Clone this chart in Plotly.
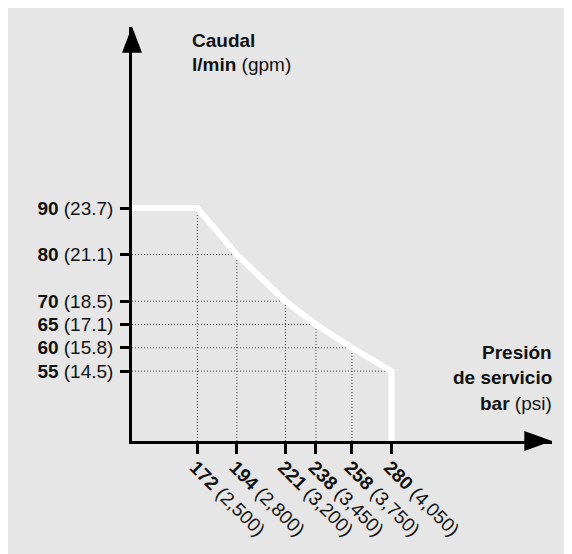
import plotly.graph_objects as go

# ---- data ----
pressure_bar = [172, 194, 221, 238, 258, 280]
pressure_psi = ["2,500", "2,800", "3,200", "3,450", "3,750", "4,050"]
flow_lpm = [90, 80, 70, 65, 60, 55]
flow_gpm = ["23.7", "21.1", "18.5", "17.1", "15.8", "14.5"]

X_MIN, X_MAX = 135.65, 369.3
Y_MIN, Y_MAX = 40.0, 128.84

# page offset of the figure (browser body margin)
OX, OY = 8, 8
W, H = 572 - OX, 554 - OY
ML, MR, MT, MB = 132 - OX, 20, 27 - OY, 113
PW, PH = W - ML - MR, H - MT - MB

FONT = "Liberation Sans, Arial, Helvetica, sans-serif"
FS = 19
TXT = "#111111"
BG = "#e6e6e6"


def px(xp):
    """page x pixel -> paper x"""
    return (xp - OX - ML) / PW


def py(yp):
    """page y pixel -> paper y"""
    return (OY + H - MB - yp) / PH


fig = go.Figure()

# dotted guide lines
gx, gy = [], []
for i in range(1, len(pressure_bar)):
    gx += [X_MIN, pressure_bar[i], None]
    gy += [flow_lpm[i], flow_lpm[i], None]
for i in range(len(pressure_bar) - 1):
    gx += [pressure_bar[i], pressure_bar[i], None]
    gy += [Y_MIN, flow_lpm[i], None]
fig.add_trace(go.Scatter(x=gx, y=gy, mode="lines",
                         line=dict(color="#444444", width=1, dash="1px,2px"),
                         hoverinfo="skip", showlegend=False))

# white performance curve
cx = [X_MIN] + pressure_bar + [pressure_bar[-1]]
cy = [flow_lpm[0]] + flow_lpm + [Y_MIN]
fig.add_trace(go.Scatter(x=cx, y=cy, mode="lines",
                         line=dict(color="white", width=6),
                         cliponaxis=False, hoverinfo="skip", showlegend=False))

xt = [f"<b>{b}</b> ({p})" for b, p in zip(pressure_bar, pressure_psi)]
yt = [f"<b>{q}</b> ({g})" for q, g in zip(flow_lpm, flow_gpm)]

fig.update_xaxes(range=[X_MIN, X_MAX], tickvals=pressure_bar, ticktext=xt,
                 tickangle=45, ticks="outside", ticklen=10, tickwidth=2.5,
                 tickcolor="#000", showline=True, linecolor="#000", linewidth=2.5,
                 showgrid=False, zeroline=False, ticklabelstandoff=-5,
                 ticklabelshift=-2,
                 tickfont=dict(family=FONT, size=FS, color=TXT))
fig.update_yaxes(range=[Y_MIN, Y_MAX], tickvals=flow_lpm, ticktext=yt,
                 ticks="outside", ticklen=9, tickwidth=2.5,
                 tickcolor="#000", showline=True, linecolor="#000", linewidth=2.5,
                 showgrid=False, zeroline=False, ticklabelstandoff=3,
                 tickfont=dict(family=FONT, size=FS, color=TXT))

shapes = [
    # axis arrowheads
    dict(type="path", xref="paper", yref="paper", fillcolor="#000", line_width=0,
         path=f"M {px(132)} {py(26.5)} L {px(122)} {py(52.7)} L {px(142)} {py(52.7)} Z"),
    dict(type="path", xref="paper", yref="paper", fillcolor="#000", line_width=0,
         path=f"M {px(552)} {py(441)} L {px(524.3)} {py(431)} L {px(524.3)} {py(451)} Z"),
]

ann = [
    dict(text="<b>Caudal</b>", x=px(190), y=py(40), xanchor="left"),
    dict(text="<b>l/min</b> (gpm)", x=px(190), y=py(65), xanchor="left"),
    dict(text="<b>Presión</b>", x=px(554), y=py(352), xanchor="right"),
    dict(text="<b>de servicio</b>", x=px(554), y=py(377.5), xanchor="right"),
    dict(text="<b>bar</b> (psi)", x=px(554), y=py(403.5), xanchor="right"),
]
for a in ann:
    a.update(xref="paper", yref="paper", yanchor="middle", showarrow=False,
             font=dict(family=FONT, size=FS, color=TXT))

fig.update_layout(width=W, height=H, margin=dict(l=ML, r=MR, t=MT, b=MB),
                  paper_bgcolor=BG, plot_bgcolor=BG, shapes=shapes,
                  annotations=ann, showlegend=False)

fig.write_html("out.html")
